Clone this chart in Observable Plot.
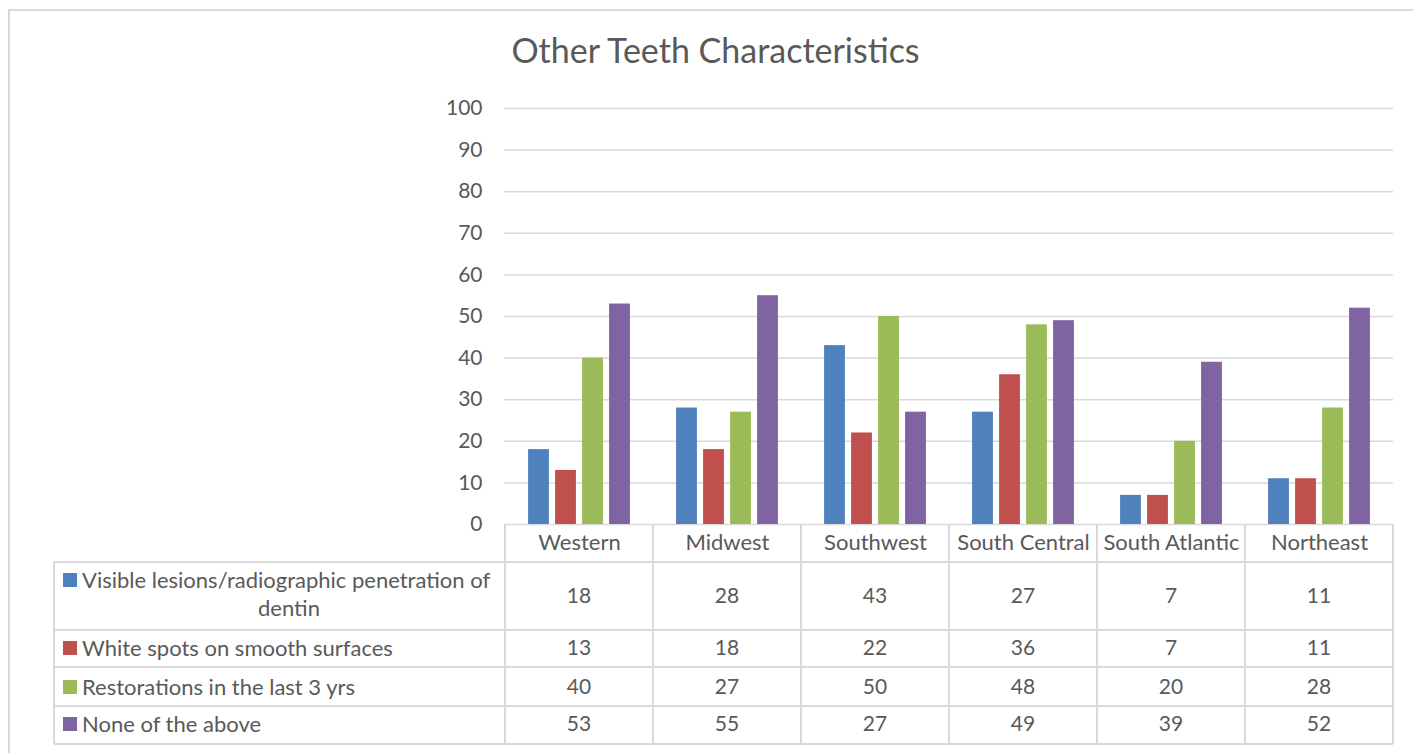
<!DOCTYPE html>
<html><head><meta charset="utf-8">
<script src="https://cdn.jsdelivr.net/npm/d3@7"></script>
<script src="https://cdn.jsdelivr.net/npm/@observablehq/plot@0.6"></script>
<style>
html,body{margin:0;padding:0;background:#fff;overflow:hidden;width:1413px;height:753px;font-family:Lato,"Open Sans",sans-serif;}
#frame{position:absolute;left:8px;top:9px;width:1430px;height:770px;border:2px solid #d9d9d9;box-sizing:border-box;}
#title{position:absolute;left:0;width:1431px;top:30px;line-height:40px;text-align:center;font-size:34px;color:#595959;}
#chart{position:absolute;left:0;top:0;}
</style></head>
<body>
<div id="frame"></div>
<div id="chart"></div>
<div id="title">Other Teeth Characteristics</div>
<script>
const regions = ["Western","Midwest","Southwest","South Central","South Atlantic","Northeast"];
const seriesNames = ["Visible lesions/radiographic penetration of dentin","White spots on smooth surfaces","Restorations in the last 3 yrs","None of the above"];
const visibleLesions = [18,28,43,27,7,11];
const whiteSpots = [13,18,22,36,7,11];
const restorations = [40,27,50,48,20,28];
const noneOfAbove = [53,55,27,49,39,52];
const yTicks = [0,10,20,30,40,50,60,70,80,90,100];
const colors = ["#4F81BD","#C0504D","#9BBB59","#8064A2"];

const seriesValues = [visibleLesions, whiteSpots, restorations, noneOfAbove];
const data = [];
seriesNames.forEach((s,i)=>regions.forEach((r,j)=>data.push({series:s, region:r, value:seriesValues[i][j]})));

const W=1413, H=753, mL=504, mR=20, mT=108, mB=229;
const band = (W-mL-mR)/regions.length;
const barW=21, gap=6, groupW=4*barW+3*gap, off0=(band-groupW)/2;
const txt="#595959", line="#d9d9d9", fs=22, fsNum=21;

const chart = Plot.plot({
  width:W, height:H, marginLeft:mL, marginRight:mR, marginTop:mT, marginBottom:mB,
  style:{fontFamily:"Lato, 'Open Sans', sans-serif", fontSize:fs+"px", color:txt, background:"transparent"},
  x:{domain:regions, padding:0},
  y:{domain:[0,100]},
  marks:[
    Plot.ruleY(yTicks,{stroke:line, strokeWidth:1.5}),
    ...seriesNames.map((s,i)=>Plot.barY(data.filter(d=>d.series===s),{
      x:"region", y:"value", fill:colors[i],
      insetLeft: off0+i*(barW+gap), insetRight: band-(off0+i*(barW+gap)+barW)
    })),
    Plot.axisY({ticks:yTicks, tickSize:0, tickPadding:22, fontSize:fsNum, label:null, fill:txt}),
    Plot.axisX({tickSize:0, tickPadding:10, fontSize:fs, label:null, fill:txt})
  ]
});
document.getElementById("chart").appendChild(chart);

// data table below the plot, aligned to the x band scale
const xs = chart.scale("x");
const svg = d3.select(chart);
const g = svg.append("g").attr("text-anchor","start");
const right = xs.apply(regions[regions.length-1]) + xs.bandwidth;
const tableLeft = 54, rowLines=[562,630,667,706,744], headerTop=524;
rowLines.forEach(y=>g.append("line").attr("x1",tableLeft).attr("x2",right).attr("y1",y).attr("y2",y).attr("stroke",line).attr("stroke-width",2));
g.append("line").attr("x1",tableLeft).attr("x2",tableLeft).attr("y1",562).attr("y2",744).attr("stroke",line).attr("stroke-width",2);
regions.forEach(r=>{
  const x = xs.apply(r);
  g.append("line").attr("x1",x).attr("x2",x).attr("y1",headerTop).attr("y2",744).attr("stroke",line).attr("stroke-width",2);
});
g.append("line").attr("x1",right).attr("x2",right).attr("y1",headerTop).attr("y2",744).attr("stroke",line).attr("stroke-width",2);

const rowCenters=[596,648,687,724];
const labelLines=[["Visible lesions/radiographic penetration of","dentin"],["White spots on smooth surfaces"],["Restorations in the last 3 yrs"],["None of the above"]];
seriesNames.forEach((s,i)=>{
  const cy = rowCenters[i];
  if (labelLines[i].length===2){
    g.append("rect").attr("x",63).attr("y",573).attr("width",14).attr("height",14).attr("fill",colors[i]);
    g.append("text").attr("x",82).attr("y",580).attr("dy","0.35em").attr("text-anchor","start").attr("font-size",fs).attr("fill",txt).text(labelLines[i][0]);
    g.append("text").attr("x",289).attr("y",608).attr("dy","0.35em").attr("text-anchor","middle").attr("font-size",fs).attr("fill",txt).text(labelLines[i][1]);
  } else {
    g.append("rect").attr("x",63).attr("y",cy-7).attr("width",14).attr("height",14).attr("fill",colors[i]);
    g.append("text").attr("x",82).attr("y",cy).attr("dy","0.35em").attr("text-anchor","start").attr("font-size",fs).attr("fill",txt).text(labelLines[i][0]);
  }
  regions.forEach((r,j)=>{
    g.append("text").attr("x",xs.apply(r)+xs.bandwidth/2).attr("y",cy).attr("dy","0.35em").attr("text-anchor","middle")
      .attr("font-size",fsNum).attr("fill",txt).text(seriesValues[i][j]);
  });
});
</script>
</body></html>
